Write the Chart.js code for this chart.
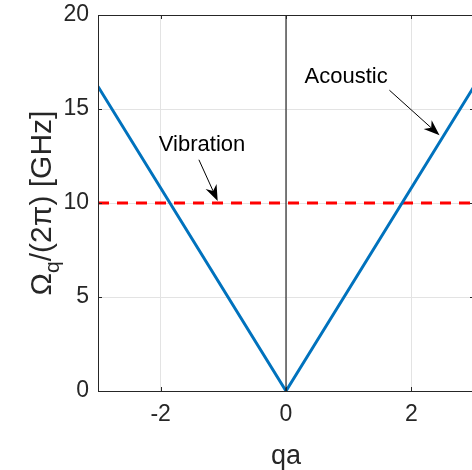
<!DOCTYPE html>
<html>
<head>
<meta charset="utf-8">
<script src="https://cdn.jsdelivr.net/npm/chart.js@4.4.1/dist/chart.umd.min.js"></script>
<style>
  html, body { margin: 0; padding: 0; background: #fff; overflow: hidden; }
  #wrap { position: relative; width: 480px; height: 470px; }
</style>
</head>
<body>
<div id="wrap"><canvas id="myChart" width="480" height="470"></canvas></div>
<script>
// data
const qa = [-3, 0, 3];
const acoustic = [16.2, 0, 16.2];
const vibrationX = [-3, 3];
const vibration = [10, 10];
const centerX = [0, 0];
const centerY = [0, 20];
const xTicks = [-2, 0, 2];
const yTicks = [0, 5, 10, 15, 20];

// annotations in data coordinates: label pos, arrow tail, arrow tip
const notes = [
  { text: "Acoustic", at: [0.96, 16.7], from: [1.65, 16.0], to: [2.45, 13.6] },
  { text: "Vibration", at: [-1.34, 13.1], from: [-1.39, 12.3], to: [-1.09, 10.1] },
];

const FONT = '"Liberation Sans", Arial, sans-serif';
const AXIS = "#262626";

function pts(xs, ys) {
  return xs.map((x, i) => ({ x: x, y: ys[i] }));
}

// box, inward ticks, axis titles and the text arrows
const decor = {
  id: "decor",
  afterDatasetsDraw(chart) {
    const ctx = chart.ctx;
    const a = chart.chartArea;
    const xs = chart.scales.x, ys = chart.scales.y;
    ctx.save();
    ctx.strokeStyle = AXIS;
    ctx.lineWidth = 1;
    ctx.beginPath();
    ctx.moveTo(a.left + 0.5, a.top + 0.5);
    ctx.lineTo(a.left + 0.5, a.bottom + 0.5);
    ctx.lineTo(a.right, a.bottom + 0.5);
    ctx.moveTo(a.left, a.top + 0.5);
    ctx.lineTo(a.right, a.top + 0.5);
    ctx.moveTo(a.right - 0.5, a.top);
    ctx.lineTo(a.right - 0.5, a.bottom);
    // inward tick marks
    xTicks.forEach(v => {
      const px = Math.round(xs.getPixelForValue(v)) + 0.5;
      ctx.moveTo(px, a.bottom); ctx.lineTo(px, a.bottom - 4);
      ctx.moveTo(px, a.top); ctx.lineTo(px, a.top + 4);
    });
    yTicks.forEach(v => {
      const py = Math.round(ys.getPixelForValue(v)) + 0.5;
      ctx.moveTo(a.left, py); ctx.lineTo(a.left + 4, py);
      ctx.moveTo(a.right, py); ctx.lineTo(a.right - 4, py);
    });
    ctx.stroke();

    // annotations
    ctx.fillStyle = "#000";
    ctx.strokeStyle = "#000";
    ctx.font = "22px " + FONT;
    ctx.textAlign = "center";
    ctx.textBaseline = "middle";
    notes.forEach(n => {
      ctx.fillText(n.text, xs.getPixelForValue(n.at[0]), ys.getPixelForValue(n.at[1]));
      const x0 = xs.getPixelForValue(n.from[0]), y0 = ys.getPixelForValue(n.from[1]);
      const x1 = xs.getPixelForValue(n.to[0]), y1 = ys.getPixelForValue(n.to[1]);
      const ang = Math.atan2(y1 - y0, x1 - x0);
      const L = 16, W = 6;
      ctx.lineWidth = 1;
      ctx.beginPath();
      ctx.moveTo(x0, y0);
      ctx.lineTo(x1 - Math.cos(ang) * L * 0.7, y1 - Math.sin(ang) * L * 0.7);
      ctx.stroke();
      const bx = x1 - Math.cos(ang) * L, by = y1 - Math.sin(ang) * L;
      const nx = -Math.sin(ang), ny = Math.cos(ang);
      ctx.beginPath();
      ctx.moveTo(x1, y1);
      ctx.lineTo(bx + nx * W, by + ny * W);
      ctx.lineTo(x1 - Math.cos(ang) * L * 0.7, y1 - Math.sin(ang) * L * 0.7);
      ctx.lineTo(bx - nx * W, by - ny * W);
      ctx.closePath();
      ctx.fill();
    });

    // x title
    ctx.fillStyle = AXIS;
    ctx.font = "27px " + FONT;
    ctx.textBaseline = "alphabetic";
    ctx.fillText("qa", xs.getPixelForValue(0), 464);

    // y title with subscript
    const big = "30px " + FONT, small = "21px " + FONT;
    const p1 = "\u03A9", p2 = "q", p3 = "/(2\u03C0) [GHz]";
    ctx.font = big; const w1 = ctx.measureText(p1).width, w3 = ctx.measureText(p3).width;
    ctx.font = small; const w2 = ctx.measureText(p2).width;
    const total = w1 + w2 + w3;
    ctx.translate(51, (a.top + a.bottom) / 2);
    ctx.rotate(-Math.PI / 2);
    ctx.textAlign = "left";
    let x = -total / 2;
    ctx.font = big; ctx.fillText(p1, x, 0); x += w1;
    ctx.font = small; ctx.fillText(p2, x, 8); x += w2;
    ctx.font = big; ctx.fillText(p3, x, 0);
    ctx.restore();
  }
};

const ctx = document.getElementById("myChart").getContext("2d");
const myChart = new Chart(ctx, {
  type: "line",
  data: {
    datasets: [
      {
        data: pts(centerX, centerY),
        borderColor: "#000000",
        borderWidth: 1,
        pointRadius: 0,
      },
      {
        data: pts(qa, acoustic),
        borderColor: "#0072bd",
        borderWidth: 3,
        pointRadius: 0,
      },
      {
        data: pts(vibrationX, vibration),
        borderColor: "#ff0000",
        borderWidth: 3,
        borderDash: [11, 8],
        pointRadius: 0,
      },
    ],
  },
  options: {
    responsive: false,
    animation: false,
    layout: { padding: { top: 15, right: 6, left: 0, bottom: 0 } },
    scales: {
      x: {
        type: "linear",
        min: -3,
        max: 3,
        afterBuildTicks: s => { s.ticks = xTicks.map(v => ({ value: v })); },
        afterFit: s => { s.height = 79; s.paddingLeft = 0; s.paddingRight = 0; },
        grid: { color: "#e3e3e3", drawTicks: false },
        border: { display: false },
        ticks: { color: AXIS, padding: 10, font: { size: 23, family: FONT } },
      },
      y: {
        min: 0,
        max: 20,
        afterBuildTicks: s => { s.ticks = yTicks.map(v => ({ value: v })); },
        afterFit: s => { s.width = 98; s.paddingTop = 0; s.paddingBottom = 0; },
        grid: { color: "#e3e3e3", drawTicks: false },
        border: { display: false },
        ticks: { color: AXIS, padding: 9, font: { size: 23, family: FONT } },
      },
    },
    plugins: {
      legend: { display: false },
      tooltip: { enabled: false },
    },
  },
  plugins: [decor],
});
</script>
</body>
</html>
